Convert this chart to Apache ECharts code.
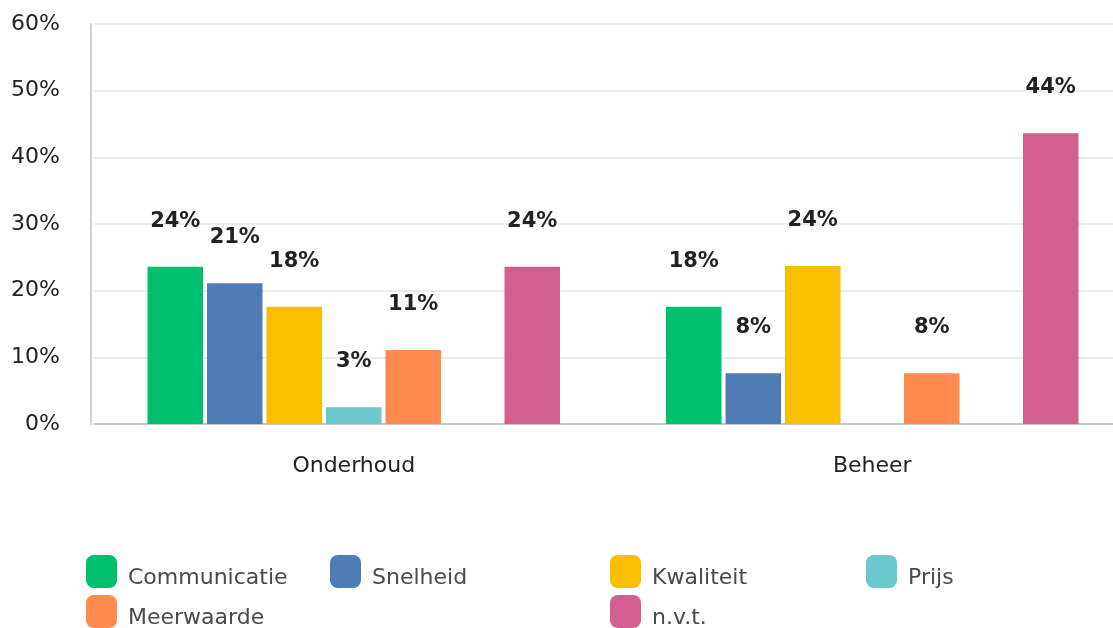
<!DOCTYPE html>
<html>
<head>
<meta charset="utf-8">
<script src="https://cdn.jsdelivr.net/npm/echarts@6/dist/echarts.min.js"></script>
<style>
html,body{margin:0;padding:0;background:#fff;overflow:hidden;}
#chart{width:1113px;height:628px;}
</style>
</head>
<body>
<div id="chart"></div>
<script>
const categories = ['Onderhoud', 'Beheer'];
const seriesNames = ['Communicatie', 'Snelheid', 'Kwaliteit', 'Prijs', 'Meerwaarde', '', 'n.v.t.'];
const communicatie = [23.6, 17.6];
const snelheid = [21.1, 7.6];
const kwaliteit = [17.6, 23.7];
const prijs = [2.5, null];
const meerwaarde = [11.1, 7.6];
const hiddenSeries = [null, null];
const nvt = [23.6, 43.6];
const yTicks = [0, 10, 20, 30, 40, 50, 60];

const colors = ['#00BF6F', '#507CB6', '#F9BE00', '#6BC8CD', '#FF8B4F', '#7D5E90', '#D25F90'];
const allData = [communicatie, snelheid, kwaliteit, prijs, meerwaarde, hiddenSeries, nvt];

const FONT = 'DejaVu Sans';
const chart = echarts.init(document.getElementById('chart'));

const legendPos = {
  'Communicatie': [86, 555], 'Snelheid': [330, 555], 'Kwaliteit': [610, 555], 'Prijs': [866, 555],
  'Meerwaarde': [86, 595], 'n.v.t.': [610, 595]
};
const legends = Object.keys(legendPos).map(n => ({
  data: [n], left: legendPos[n][0], top: legendPos[n][1], orient: 'horizontal',
  icon: 'roundRect', itemWidth: 31, itemHeight: 33, itemGap: 0,
  padding: 0,
  formatter: '{t|{name}}',
  textStyle: {
    rich: {t: {fontFamily: FONT, fontSize: 22, color: '#4a4a4a', padding: [14, 0, 0, 6]}}
  },
  selectedMode: false
}));

chart.setOption({
  animation: false,
  color: colors,
  grid: {left: 94.5, top: 24, bottom: 204, width: 1037, outerBoundsMode: 'none', containLabel: false},
  legend: legends,
  xAxis: {
    type: 'category', data: categories,
    axisLine: {lineStyle: {color: '#c8c8c8', width: 2}},
    axisTick: {show: false},
    axisLabel: {fontFamily: FONT, fontSize: 22, color: '#222', margin: 31}
  },
  yAxis: {
    type: 'value', min: yTicks[0], max: yTicks[yTicks.length - 1], interval: 10,
    offset: 3.5,
    axisLine: {show: true, lineStyle: {color: '#d0d0d0', width: 2}},
    axisTick: {show: false},
    splitLine: {lineStyle: {color: '#ececec', width: 2}},
    axisLabel: {fontFamily: FONT, fontSize: 22, color: '#222', margin: 31, formatter: v => v + '%'}
  },
  series: seriesNames.map((name, i) => ({
    type: 'bar', name: name, data: allData[i],
    barWidth: 55.5, barGap: '7.2%',
    itemStyle: {color: colors[i]},
    label: {
      show: true, position: 'top', distance: 35,
      fontFamily: FONT, fontSize: 21, fontWeight: 'bold', color: '#222',
      formatter: p => (p.value == null ? '' : Math.round(p.value) + '%')
    }
  }))
});
</script>
</body>
</html>
